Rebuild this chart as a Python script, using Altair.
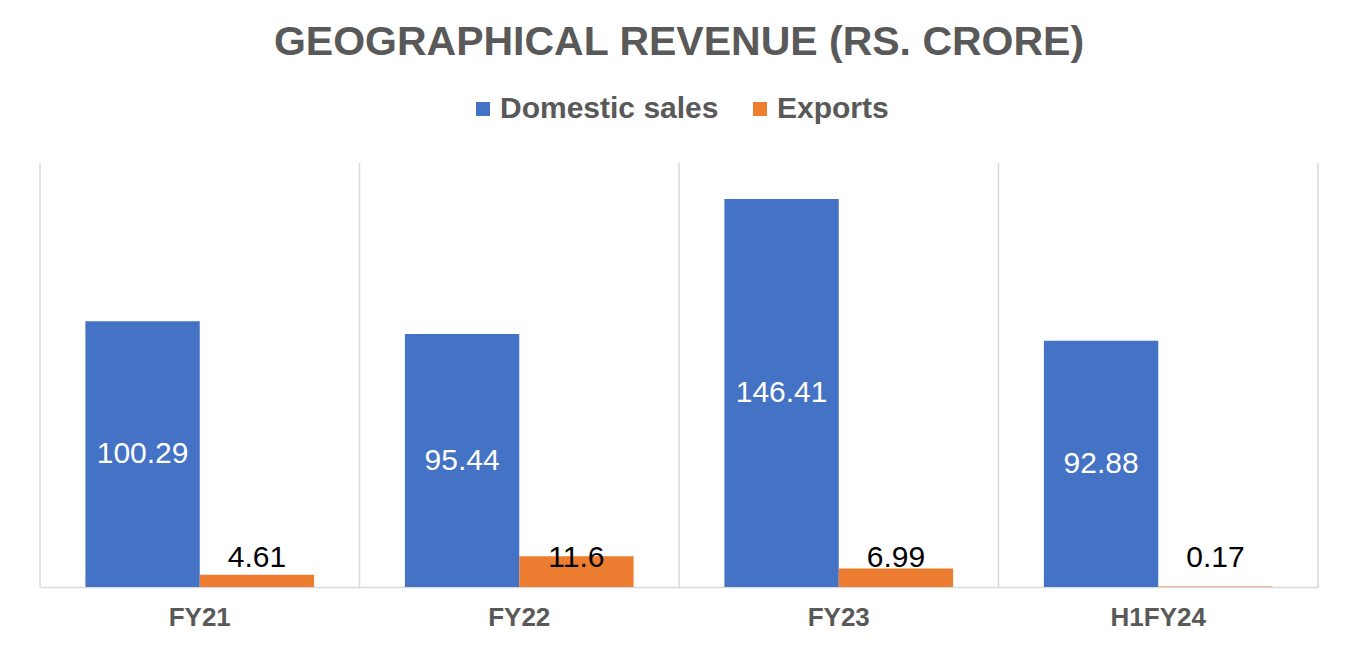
import altair as alt
import pandas as pd

categories = ["FY21", "FY22", "FY23", "H1FY24"]
series = ["Domestic sales", "Exports"]
domestic = [100.29, 95.44, 146.41, 92.88]
exports = [4.61, 11.6, 6.99, 0.17]
domestic_labels = ["100.29", "95.44", "146.41", "92.88"]
export_labels = ["4.61", "11.6", "6.99", "0.17"]

rows = []
for c, v, l in zip(categories, domestic, domestic_labels):
    rows.append({"category": c, "series": series[0], "value": v, "label": l})
for c, v, l in zip(categories, exports, export_labels):
    rows.append({"category": c, "series": series[1], "value": v, "label": l})
df = pd.DataFrame(rows)
cat_df = pd.DataFrame({"category": categories})

FONT = "Liberation Sans"
BLUE = "#4472C4"
ORANGE = "#ED7D31"
GRID = "#d9d9d9"
TXT = "#595959"

x_enc = alt.X(
    "category:N",
    sort=categories,
    scale=alt.Scale(paddingInner=0, paddingOuter=0),
    axis=alt.Axis(
        title=None,
        labelAngle=0,
        labelFont=FONT,
        labelFontSize=26,
        labelFontWeight="bold",
        labelColor=TXT,
        labelPadding=17,
        ticks=False,
        domainColor=GRID,
        domainWidth=1.5,
        grid=False,
    ),
)
xoff = alt.XOffset(
    "series:N",
    sort=series,
    scale=alt.Scale(paddingInner=0, paddingOuter=0.397),
)
y_scale = alt.Scale(domain=[0, 160])

bars = alt.Chart(df).mark_bar(opacity=1).encode(
    x=x_enc,
    xOffset=xoff,
    y=alt.Y("value:Q", scale=y_scale, axis=None),
    color=alt.Color(
        "series:N",
        sort=series,
        scale=alt.Scale(domain=series, range=[BLUE, ORANGE]),
        legend=alt.Legend(
            title=None,
            orient="none",
            legendX=428,
            legendY=-69,
            direction="horizontal",
            symbolType="square",
            symbolSize=196,
            symbolStrokeWidth=0,
            symbolOpacity=1,
            labelFont=FONT,
            labelFontSize=30,
            labelFontWeight="bold",
            labelColor=TXT,
            labelOffset=2,
            labelLimit=500,
            columnPadding=26,
            padding=0,
        ),
    ),
)

grid_start = alt.Chart(cat_df).mark_rule(color=GRID, strokeWidth=1.5).encode(
    x=alt.X("category:N", sort=categories, bandPosition=0, axis=None)
)
grid_end = alt.Chart(cat_df).transform_filter(
    alt.datum.category == categories[-1]
).mark_rule(color=GRID, strokeWidth=1.5).encode(
    x=alt.X("category:N", sort=categories, bandPosition=1, axis=None)
)

dom_text = alt.Chart(df).transform_filter(
    alt.datum.series == series[0]
).transform_calculate(
    mid="datum.value / 2"
).mark_text(
    font=FONT, fontSize=30, color="white", baseline="middle"
).encode(
    x=alt.X("category:N", sort=categories, axis=None),
    xOffset=xoff,
    y=alt.Y("mid:Q", scale=y_scale, axis=None),
    text="label:N",
)

exp_text = alt.Chart(df).transform_filter(
    alt.datum.series == series[1]
).mark_text(
    font=FONT, fontSize=30, color="black", baseline="middle"
).encode(
    x=alt.X("category:N", sort=categories, axis=None),
    xOffset=xoff,
    y=alt.datum(11),
    text="label:N",
)

chart = alt.layer(bars, grid_start, grid_end, dom_text, exp_text).resolve_axis(
    x="independent"
).properties(
    width=1278,
    height=424,
    autosize=alt.AutoSizeParams(type="none"),
    padding={"left": 32, "top": 155, "right": 10, "bottom": 46},
    title=alt.TitleParams(
        "GEOGRAPHICAL REVENUE (RS. CRORE)",
        font=FONT,
        fontSize=41,
        fontWeight="bold",
        color=TXT,
        anchor="middle",
        offset=30,
    ),
    background="white",
).configure_view(stroke=None)

chart.save("out.html", embed_options={"renderer": "svg", "actions": False})
